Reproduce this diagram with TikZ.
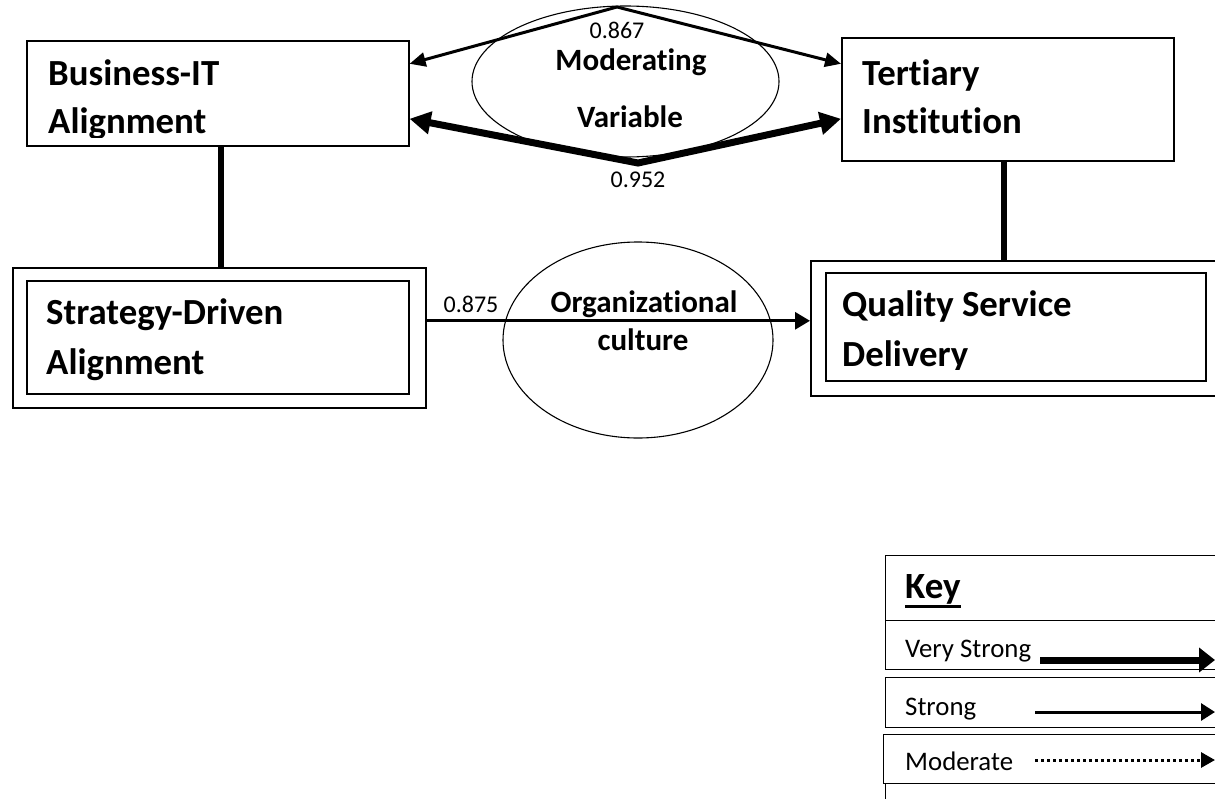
\documentclass[tikz,border=0pt]{standalone}
\usepackage{fontspec}
\setmainfont{Carlito}[Ligatures={NoCommon}]
\usetikzlibrary{arrows.meta,shapes.geometric,calc}
\begin{document}
\begin{tikzpicture}[x=1pt,y=-1pt,
 box/.style={draw, line width=1.6pt, rectangle, inner sep=0pt, anchor=north west},
 keybox/.style={draw, line width=1.3pt, rectangle, inner sep=0pt, anchor=north west},
 boxtext/.style={font=\fontsize{36.8}{40}\selectfont\bfseries, inner sep=0pt, anchor=base west},
 ell/.style={draw, ellipse, line width=1.1pt, inner sep=0pt},
 elltext/.style={font=\fontsize{31}{34}\selectfont\bfseries, inner sep=0pt, anchor=base},
 num/.style={font=\fontsize{24}{26}\selectfont, inner sep=0pt, anchor=base},
 keytext/.style={font=\fontsize{26.8}{28}\selectfont, inner sep=0pt, anchor=base west},
 thinarrow/.style={line width=3pt, line join=miter, {Triangle[length=16pt,width=14pt]}-{Triangle[length=16pt,width=14pt]}},
 thickarrow/.style={line width=7pt, line join=miter, {Triangle[length=21pt,width=22pt]}-{Triangle[length=21pt,width=22pt]}},
 linkline/.style={line width=6pt},
]
\useasboundingbox (0,0) rectangle (1215,798);
\fill[white] (0,0) rectangle (1215,798);

% Business-IT Alignment
\node[box, minimum width=382pt, minimum height=105pt] (biz) at (26,40) {};
\begin{scope}
\clip (26,40) rectangle (408,137);
\node[boxtext] (biz1) at (48,85) {Business-IT};
\node[boxtext] (biz2) at (48,133) {Alignment};
\end{scope}

% Tertiary Institution
\node[box, minimum width=332pt, minimum height=123pt] (ter) at (841,37) {};
\node[boxtext] (ter1) at (862,85) {Tertiary};
\node[boxtext] (ter2) at (862,133) {Institution};

% Moderating variable ellipse
\node[ell, minimum width=307pt, minimum height=151pt] (mod) at (625.5,81.5) {};
\node[elltext] (mod1) at (631,70) {Moderating};
\node[elltext] (mod2) at (630,127) {Variable};

% Strategy-Driven Alignment
\node[box, minimum width=413pt, minimum height=140pt] (so) at (12,267) {};
\node[box, minimum width=382pt, minimum height=113pt] (si) at (26,280) {};
\node[boxtext] (s1) at (46,324) {Strategy-Driven};
\node[boxtext] (s2) at (46,374) {Alignment};

% Quality Service Delivery
\node[box, minimum width=420pt, minimum height=135pt] (qo) at (810,260) {};
\node[box, minimum width=380pt, minimum height=108pt] (qi) at (825,272) {};
\begin{scope}
\clip (825,272) rectangle (1205,369);
\node[boxtext] (q1) at (842,316) {Quality Service};
\node[boxtext] (q2) at (842,366) {Delivery};
\end{scope}

% Organizational culture ellipse
\node[ell, minimum width=270pt, minimum height=196pt] (org) at (638,340) {};
\node[elltext] (org1) at (644,312) {Organizational};
\node[elltext] (org2) at (643,350) {culture};

% connectors
\coordinate (apexT) at (617,7);
\coordinate (apexB) at (638,163);
\draw[thinarrow] ([yshift=29.5pt]biz.east) -- (apexT) -- ([yshift=35.5pt]ter.west);
\draw[thickarrow] ([yshift=-25.5pt]biz.east) -- (apexB) -- ([yshift=-19.5pt]ter.west);
\draw[line width=3pt, -{Triangle[length=15pt,width=17pt]}] ([yshift=17pt]so.east) -- ([yshift=17pt]so.east -| qo.west);
\draw[linkline] ([xshift=3pt]biz.south) -- ([xshift=3pt]biz.south |- so.north);
\draw[linkline] ([xshift=-4pt]ter.south) -- ([xshift=-4pt]ter.south |- qo.north);

% labels
\node[num] (l867) at (617,38) {0.867};
\node[num] (l952) at (638,187) {0.952};
\node[num] (l875) at (471,312) {0.875};

% Key
\node[keybox, minimum width=345pt, minimum height=65pt] (k1) at (885,555) {};
\node[keybox, minimum width=345pt, minimum height=49pt] (k2) at (885,620) {};
\node[keybox, minimum width=345pt, minimum height=50pt] (k3) at (885,677) {};
\node[keybox, minimum width=347pt, minimum height=49pt] (k4) at (883,734) {};
\node[keybox, minimum width=345pt, minimum height=30pt] (k5) at (885,783) {};
\node[keytext, font=\fontsize{37}{38}\selectfont\bfseries] (keyt) at (905,598) {Key};
\draw[line width=2.6pt] ([yshift=-8.5pt]keyt.base west) -- ([yshift=-8.5pt]keyt.base east);
\node[keytext] (kt2) at (905,657) {Very Strong};
\node[keytext] (kt3) at (905,715) {Strong};
\node[keytext] (kt4) at (905,770) {Moderate};
\coordinate (a2s) at (1040,660); \coordinate (a2e) at (1215,660);
\coordinate (a3s) at (1035,712); \coordinate (a3e) at (1215,712);
\coordinate (a4s) at (1035,760); \coordinate (a4e) at (1215,760);
\draw[line width=7pt, -{Triangle[length=16pt,width=24pt]}] (a2s) -- (a2e);
\draw[line width=3pt, -{Triangle[length=14pt,width=17pt]}] (a3s) -- (a3e);
\draw[line width=3pt, dash pattern=on 3pt off 3pt, -{Triangle[length=14pt,width=15pt]}] (a4s) -- (a4e);
\end{tikzpicture}
\end{document}
